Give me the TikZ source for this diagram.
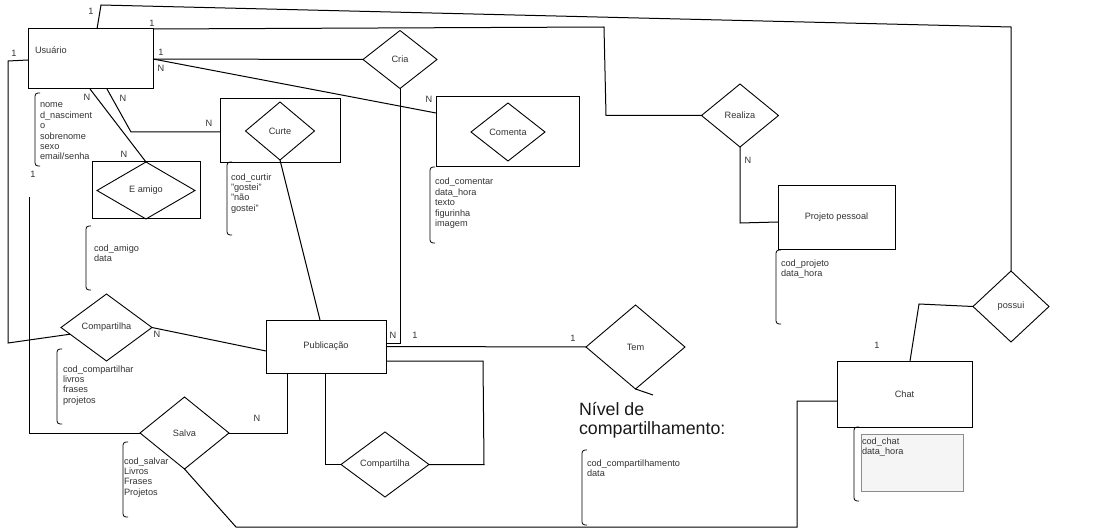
\documentclass[tikz,border=0pt]{standalone}
\usepackage{fontspec}
\setmainfont{Liberation Sans}
\usetikzlibrary{shapes.geometric,calc}
\begin{document}
\begin{tikzpicture}[x=1pt,y=-1pt,line width=1pt,
  every node/.style={font=\fontsize{9.2}{10.4}\selectfont,text=black!80,inner sep=1pt,outer sep=0pt},
  ent/.style 2 args={draw,rectangle,line width=1pt,minimum width=#1,minimum height=#2},
  rel/.style 2 args={draw,diamond,aspect=1.3,line width=0.9pt,minimum width=#1,minimum height=#2},
  card/.style={inner sep=0pt},
  attr/.style={anchor=base west,align=left,inner sep=0pt},
  brk/.style={line width=0.8pt,rounded corners=3pt}]
\useasboundingbox (0,0) rectangle (1112,532);

% entities
\node[ent={125pt}{60pt},anchor=center,text height=7pt,text depth=18.4pt,text width=111pt,align=left] (usuario) at (90.5,59) {Usuário};
\node[ent={120pt}{64pt}] (curtebox) at (280,131) {};
\node[ent={108pt}{57pt}] (eamigobox) at (146,190.5) {};
\node[ent={143pt}{70pt}] (comentabox) at (507.5,132) {};
\node[ent={117pt}{63pt}] (projeto) at (836.5,217.5) {Projeto pessoal};
\node[ent={135pt}{66pt}] (chat) at (904.5,394) {Chat};
\node[ent={120pt}{53pt}] (publicacao) at (326,346.5) {Publicação};

% relationships
\node[rel={74pt}{58pt}] (cria) at (400,59.5) {Cria};
\node[rel={69pt}{58pt}] (curte) at (280,131) {Curte};
\node[rel={98pt}{57pt}] (eamigo) at (146,190.5) {E amigo};
\node[rel={74pt}{58pt}] (comenta) at (508,132) {Comenta};
\node[rel={77pt}{63pt}] (realiza) at (740,115.5) {Realiza};
\node[rel={76pt}{71pt}] (possui) at (1011,306.5) {possui};
\node[rel={91pt}{67pt}] (comp1) at (106.5,327.5) {Compartilha};
\node[rel={89pt}{72pt}] (salva) at (184.5,433) {Salva};
\node[rel={88pt}{65pt}] (comp2) at (385,464.5) {Compartilha};
\node[rel={99pt}{84pt}] (tem) at (635.5,347) {Tem};

% connectors
\draw ($(usuario.north west)+(69,0)$) -- (101,5) -- (1011,27) -- (possui.north);
\draw (usuario.north east) -- (604,27) -- (606,115.5) -- (realiza.west);
\draw ($(usuario.west)+(0,1)$) -- (8,61) -- (8,343) -- ($(comp1.west)!0.2!(comp1.south)$);
\coordinate (loose) at (29,197);
\draw (loose) -- (29,433) -- (salva.west);
\draw (usuario.east) -- (cria.west);
\draw (cria.south) -- (400,343) -- (publicacao.east |- 0,343);
\draw (usuario.east) -- (comentabox.west |- 0,113);
\draw ($(usuario.south west)+(79,0)$) -- (131,132) -- (curtebox.west |- 0,132);
\draw ($(usuario.south west)+(62,0)$) -- (eamigo.north);
\draw (curte.south) -- ($(publicacao.north west)+(54,0)$);
\draw (realiza.south) -- (740,223) -- (projeto.west |- 0,222);
\draw (possui.west) -- (919,304) -- ($(chat.north west)+(73,0)$);
\draw ($(chat.west)+(0,7)$) -- (797,401) -- (797,527) -- (236,527) -- (salva.south);
\draw (salva.east) -- (287,433) -- ($(publicacao.south west)+(21,0)$);
\draw (comp1.east) -- ($(publicacao.west)+(0,4.5)$);
\draw (publicacao.east) -- (tem.west);
\draw ($(publicacao.east)+(0,14.5)$) -- (483,361) -- (484,464.5) -- (comp2.east);
\draw ($(publicacao.south west)+(59,0)$) -- (325,464.5) -- (comp2.west);
\coordinate (temtail) at (653,395);
\draw (tem.south) -- (temtail);

% cardinalities
\node[card] (k1) at (91,11) {1};
\node[card] (k2) at (152,23) {1};
\node[card] (k3) at (14,53) {1};
\node[card] (k4) at (161,52) {1};
\node[card] (k5) at (161,68) {N};
\node[card] (k6) at (87,97) {N};
\node[card] (k7) at (123,98) {N};
\node[card] (k8) at (209,123) {N};
\node[card] (k9) at (124,154) {N};
\node[card] (k10) at (33,174) {1};
\node[card] (k11) at (429,99) {N};
\node[card] (k12) at (748,160) {N};
\node[card] (k13) at (157,334) {N};
\node[card] (k14) at (393,335) {N};
\node[card] (k15) at (415,335) {1};
\node[card] (k16) at (573,338) {1};
\node[card] (k17) at (257,418) {N};
\node[card] (k18) at (877,345) {1};

% attribute brackets
\draw[brk] (40,93) -- (35,93) -- (35,166) -- (40,166);
\draw[brk] (232,162) -- (227,162) -- (227,235) -- (232,235);
\draw[brk] (91,226) -- (86,226) -- (86,290) -- (91,290);
\draw[brk] (435,167) -- (430,167) -- (430,243) -- (435,243);
\draw[brk] (781,250) -- (776,250) -- (776,324) -- (781,324);
\draw[brk] (62,349) -- (57,349) -- (57,424) -- (62,424);
\draw[brk] (128,442) -- (123,442) -- (123,517) -- (128,517);
\draw[brk] (587,450) -- (582,450) -- (582,525) -- (587,525);
\draw[brk] (859,427) -- (854,427) -- (854,501) -- (859,501);
\filldraw[draw=black!45,fill=black!4,line width=0.6pt] (861,434) rectangle (963,491);

% attribute texts (anchored at the baseline of their last line)
\node[attr] (ausuario) at (40,160) {nome\\d\_nasciment\\o\\sobrenome\\sexo\\email/senha};
\node[attr] (acurte) at (231,211.2) {cod\_curtir\\"gostei"\\"não\\gostei"};
\node[attr] (aeamigo) at (94,261.4) {cod\_amigo\\data};
\node[attr] (acomenta) at (435,226.6) {cod\_comentar\\data\_hora\\texto\\figurinha\\imagem};
\node[attr] (aprojeto) at (781,276.4) {cod\_projeto\\data\_hora};
\node[attr] (acomp1) at (63,403.2) {cod\_compartilhar\\livros\\frases\\projetos};
\node[attr] (asalva) at (124,495.2) {cod\_salvar\\Livros\\Frases\\Projetos};
\node[attr] (atem) at (587,476.4) {cod\_compartilhamento\\data};
\node[attr] (achat) at (862,454.4) {cod\_chat\\data\_hora};
\node[attr,font=\fontsize{17.8}{19}\selectfont,text=black!90] (nivel) at (579,434) {Nível de\\compartilhamento:};
\end{tikzpicture}
\end{document}
